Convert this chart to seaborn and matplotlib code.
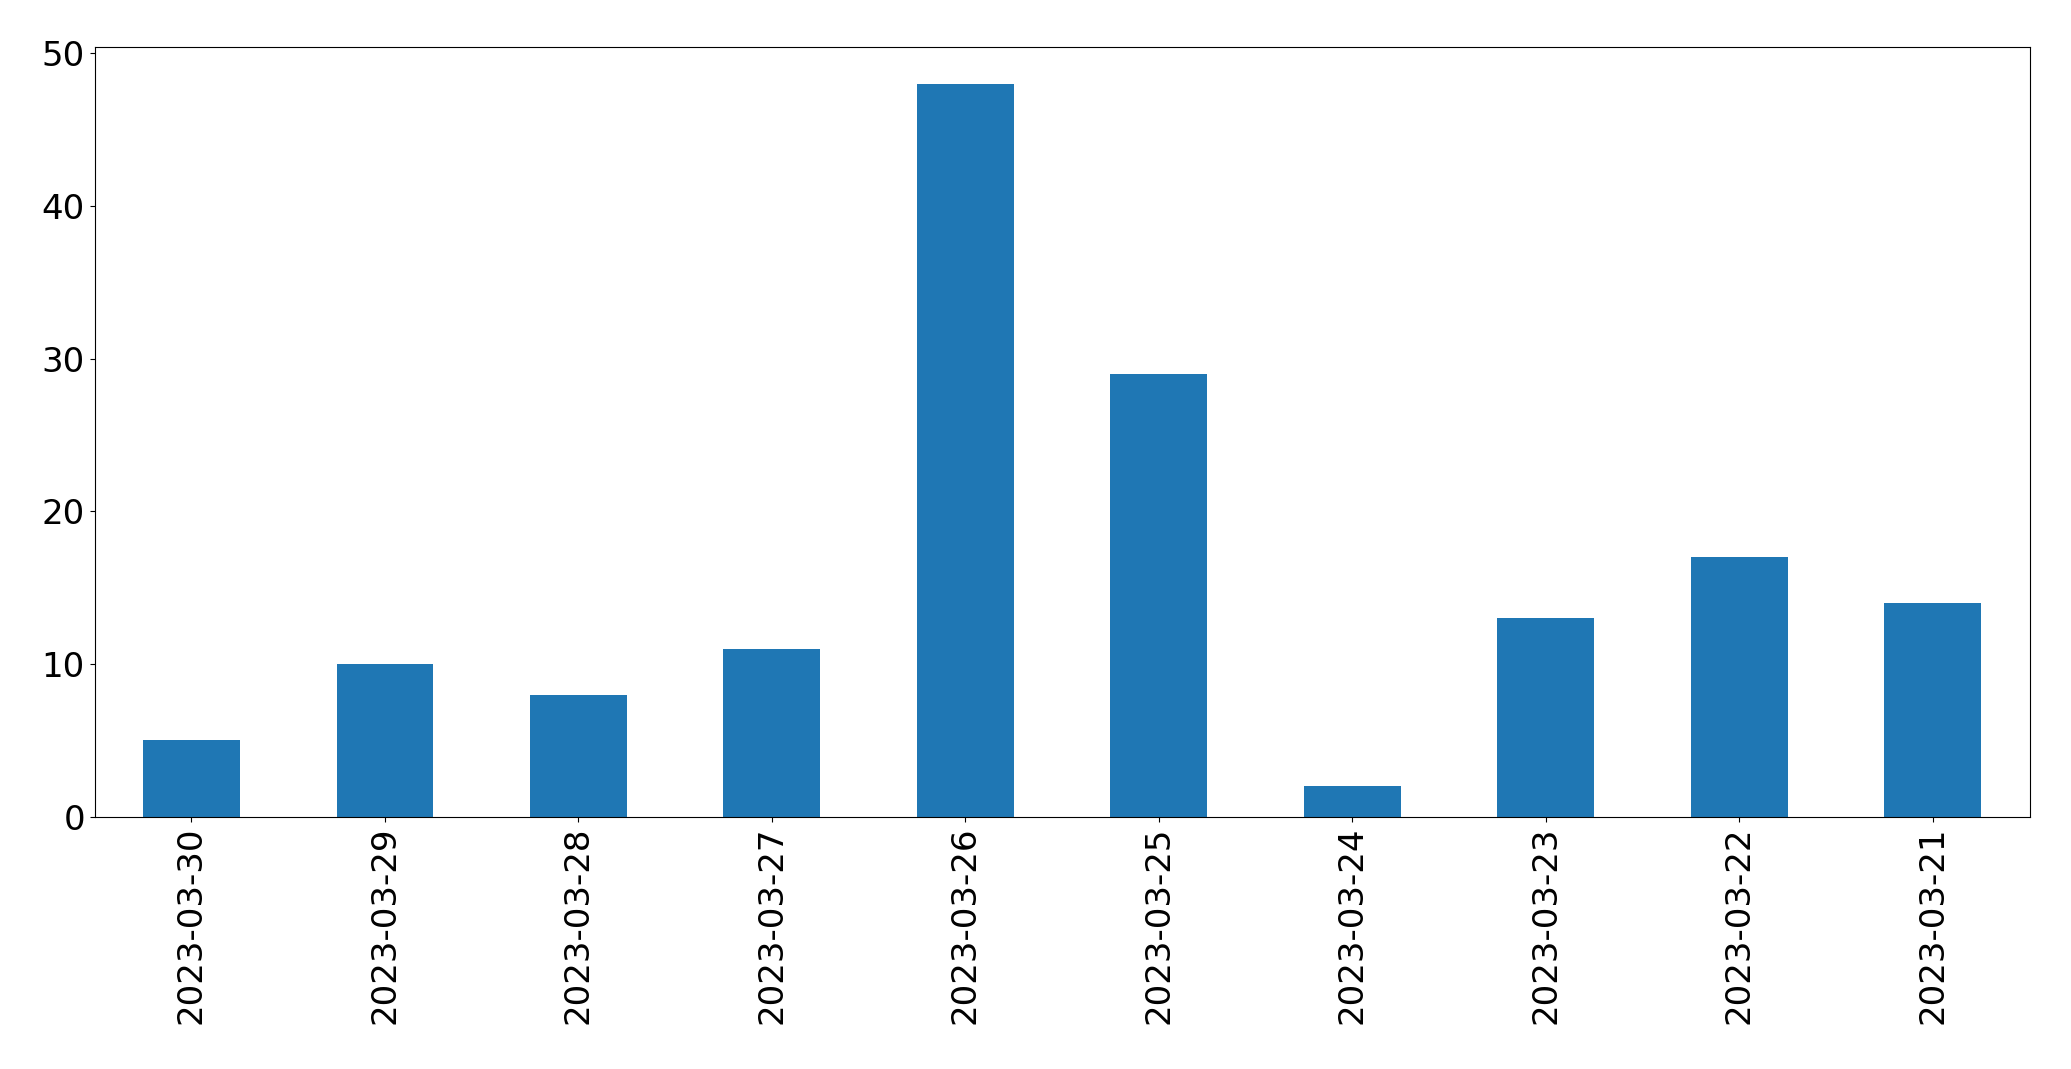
import matplotlib
matplotlib.use("Agg")
import matplotlib.pyplot as plt
import seaborn as sns
import pandas as pd

# Chart data
dates = ["2023-03-30", "2023-03-29", "2023-03-28", "2023-03-27", "2023-03-26",
         "2023-03-25", "2023-03-24", "2023-03-23", "2023-03-22", "2023-03-21"]
counts = [5, 10, 8, 11, 48, 29, 2, 13, 17, 14]

df = pd.DataFrame({"date": dates, "count": counts})

fig, ax = plt.subplots(figsize=(20.71, 10.69), dpi=100)
sns.barplot(data=df, x="date", y="count", order=dates, color="#1f77b4",
            saturation=1, width=0.5, linewidth=0, ax=ax)

ax.set_xlim(-0.5, len(dates) - 0.5)
ax.set_ylim(0, max(counts) * 1.05)
ax.set_xlabel("")
ax.set_ylabel("")
ax.tick_params(axis="both", labelsize=24.5)
ax.tick_params(axis="x", labelrotation=90)

plt.subplots_adjust(left=0.0457, right=0.980, top=0.956, bottom=0.236)
plt.savefig("out.png", dpi=100)
